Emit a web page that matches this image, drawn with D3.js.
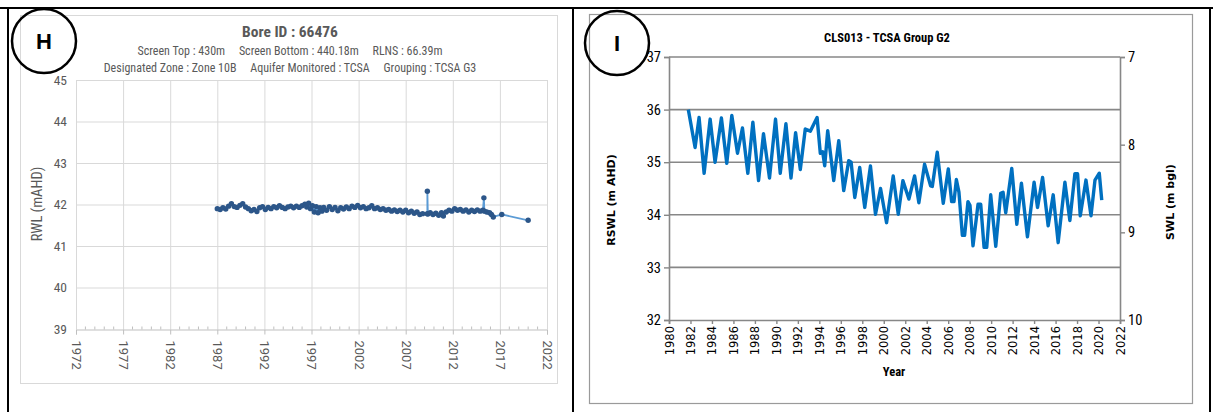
<!DOCTYPE html>
<html>
<head>
<meta charset="utf-8">
<script src="https://cdn.jsdelivr.net/npm/d3@7"></script>
<style>
  body { margin: 0; background: #fff; }
  svg { display: block; }
</style>
</head>
<body>
<div id="chart"></div>
<script>
// Panel H: bore 66476 (decimal year, RWL mAHD)
const boreYears = [
  1987.0, 1987.3, 1987.6, 1987.9, 1988.2, 1988.5, 1988.8, 1989.1, 1989.4, 1989.7,
  1990.0, 1990.3, 1990.6, 1990.9, 1991.2, 1991.5, 1991.8, 1992.1, 1992.4, 1992.7,
  1993.0, 1993.3, 1993.6, 1993.9, 1994.2, 1994.5, 1994.8, 1995.1, 1995.4, 1995.7,
  1996.0, 1996.3, 1996.5, 1996.7, 1996.9, 1997.1, 1997.3, 1997.5, 1997.7, 1997.9,
  1998.1, 1998.3, 1998.6, 1998.9, 1999.2, 1999.5, 1999.8, 2000.1, 2000.4, 2000.7,
  2001.0, 2001.3, 2001.6, 2001.9, 2002.2, 2002.5, 2002.8, 2003.1, 2003.4, 2003.7,
  2004.0, 2004.3, 2004.6, 2004.9, 2005.2, 2005.5, 2005.8, 2006.1, 2006.4, 2006.7,
  2007.0, 2007.3, 2007.6, 2007.9, 2008.2, 2008.5, 2008.8, 2009.3, 2009.3, 2009.35,
  2009.6, 2009.9, 2010.2, 2010.5, 2010.8, 2011.0, 2011.3, 2011.6, 2011.9, 2012.2,
  2012.5, 2012.8, 2013.1, 2013.4, 2013.7, 2014.0, 2014.3, 2014.6, 2014.9, 2015.2,
  2015.3, 2015.35, 2015.6, 2015.9, 2016.1, 2016.3, 2017.2, 2020.0
];
const boreRWL = [
  41.90, 41.88, 41.92, 41.89, 41.96, 42.02, 41.95, 41.93, 41.98, 42.02,
  41.94, 41.90, 41.85, 41.88, 41.83, 41.92, 41.95, 41.88, 41.93, 41.90,
  41.95, 41.92, 41.97, 41.93, 41.90, 41.94, 41.96, 41.92, 41.96, 41.93,
  41.97, 42.01, 41.94, 42.03, 41.90, 41.97, 41.82, 41.95, 41.80, 41.92,
  41.84, 41.93, 41.86, 41.95, 41.88, 41.93, 41.85, 41.92, 41.89, 41.94,
  41.90, 41.96, 41.93, 41.98, 41.92, 41.95, 41.90, 41.92, 41.97, 41.90,
  41.92, 41.88, 41.90, 41.86, 41.88, 41.84, 41.87, 41.83, 41.86, 41.82,
  41.86, 41.80, 41.84, 41.79, 41.82, 41.76, 41.78, 41.78, 42.32, 41.77,
  41.80, 41.76, 41.79, 41.74, 41.80, 41.72, 41.82, 41.86, 41.84, 41.90,
  41.86, 41.88, 41.84, 41.87, 41.82, 41.86, 41.83, 41.87, 41.84, 41.86,
  42.16, 41.84, 41.82, 41.80, 41.76, 41.70, 41.76, 41.62
];
const boreXTicks = [1972, 1977, 1982, 1987, 1992, 1997, 2002, 2007, 2012, 2017, 2022];
const boreYTicks = [39, 40, 41, 42, 43, 44, 45];

// Panel I: CLS013 (decimal year, RSWL m AHD)
const clsYears = [
  1981.80, 1982.43, 1982.80, 1983.27, 1983.83, 1984.29, 1984.88, 1985.38, 1985.85, 1986.38,
  1986.84, 1987.34, 1987.81, 1988.34, 1988.80, 1989.36, 1989.92, 1990.36, 1990.89, 1991.36,
  1991.79, 1992.23, 1992.69, 1993.16, 1993.79, 1994.09, 1994.31, 1994.50, 1994.78, 1995.34,
  1995.81, 1996.27, 1996.74, 1996.96, 1997.30, 1997.76, 1998.23, 1998.76, 1999.23, 1999.70,
  2000.26, 2000.88, 2001.35, 2001.78, 2002.34, 2002.87, 2003.27, 2003.80, 2004.36, 2004.52,
  2004.98, 2005.54, 2006.01, 2006.32, 2006.54, 2006.76, 2007.00, 2007.32, 2007.53, 2007.84,
  2008.03, 2008.31, 2008.78, 2009.03, 2009.34, 2009.59, 2009.96, 2010.43, 2010.89, 2011.11,
  2011.36, 2011.92, 2012.39, 2012.82, 2013.38, 2014.00, 2014.32, 2014.79, 2015.31, 2015.78,
  2016.24, 2016.87, 2017.33, 2017.80, 2018.05, 2018.30, 2018.83, 2019.30, 2019.67, 2020.07,
  2020.30
];
const clsRSWL = [
  36.00, 35.28, 35.85, 34.79, 35.82, 35.00, 35.84, 34.98, 35.89, 35.17,
  35.65, 34.79, 35.76, 34.65, 35.54, 34.70, 35.82, 34.79, 35.73, 34.70,
  35.56, 34.86, 35.63, 35.59, 35.85, 35.17, 35.20, 34.93, 35.60, 34.65,
  35.41, 34.46, 35.03, 35.00, 34.33, 34.90, 34.14, 34.93, 34.01, 34.50,
  33.85, 34.74, 34.01, 34.65, 34.30, 34.74, 34.23, 34.96, 34.55, 34.54,
  35.19, 34.22, 34.87, 34.25, 34.25, 34.67, 34.43, 33.61, 33.61, 34.25,
  34.18, 33.41, 34.20, 34.20, 33.38, 33.38, 34.38, 33.40, 34.41, 34.43,
  34.04, 34.88, 33.82, 34.60, 33.58, 34.62, 34.14, 34.71, 33.79, 34.38,
  33.47, 34.62, 33.89, 34.78, 34.78, 33.98, 34.66, 33.98, 34.66, 34.79,
  34.28
];
const clsXTicks = d3.range(1980, 2023, 2);
const clsYTicks = [32, 33, 34, 35, 36, 37];
const clsSWLTicks = [7, 8, 9, 10];

const W = 1213, H = 412;
const NARROW = "'Liberation Sans Narrow', 'Roboto Condensed', 'Open Sans', sans-serif";

const svg = d3.select("#chart")
  .append("svg")
  .attr("width", W)
  .attr("height", H)
  .attr("viewBox", "0 0 " + W + " " + H);

// ---------- panel H ----------
const gH = svg.append("g");

gH.append("rect")
  .attr("x", 20.5).attr("y", 15.5)
  .attr("width", 537).attr("height", 368)
  .attr("fill", "none").attr("stroke", "#d9d9d9");

const xH = d3.scaleLinear().domain([1972, 2022]).range([76, 547]);
const yH = d3.scaleLinear().domain([39, 45]).range([329, 80]);

gH.append("g")
  .selectAll("line.h")
  .data(boreYTicks.slice(1))
  .join("line")
  .attr("x1", xH(1972)).attr("x2", xH(2022))
  .attr("y1", d => yH(d) + 0.5).attr("y2", d => yH(d) + 0.5)
  .attr("stroke", "#d9d9d9");

gH.append("g")
  .selectAll("line.v")
  .data(boreXTicks)
  .join("line")
  .attr("x1", d => xH(d) + 0.5).attr("x2", d => xH(d) + 0.5)
  .attr("y1", yH(45)).attr("y2", yH(39))
  .attr("stroke", "#d9d9d9");

const axH = gH.append("g")
  .attr("transform", "translate(0," + (yH(39) + 0.5) + ")")
  .call(d3.axisBottom(xH).tickValues(boreXTicks).tickSize(5).tickFormat(d3.format("d")));
axH.select(".domain").attr("stroke", "#bfbfbf");
axH.selectAll(".tick line").attr("stroke", "#bfbfbf");
axH.selectAll(".tick text")
  .attr("transform", "rotate(90)")
  .attr("x", 11).attr("y", 0).attr("dy", "0.35em")
  .attr("text-anchor", "start")
  .attr("fill", "#595959")
  .style("font", "13px Roboto, sans-serif");

axH.append("g")
  .selectAll("line")
  .data(d3.range(1972, 2023).filter(d => (d - 1972) % 5 !== 0))
  .join("line")
  .attr("x1", d => xH(d)).attr("x2", d => xH(d))
  .attr("y1", 0).attr("y2", -3)
  .attr("stroke", "#bfbfbf");

gH.append("g")
  .selectAll("text")
  .data(boreYTicks)
  .join("text")
  .attr("x", 67)
  .attr("y", d => yH(d))
  .attr("dy", "0.35em")
  .attr("text-anchor", "end")
  .attr("fill", "#595959")
  .style("font", "13.5px " + NARROW)
  .text(d => d);

gH.append("text")
  .attr("transform", "translate(42,204) rotate(-90)")
  .attr("text-anchor", "middle")
  .attr("fill", "#595959")
  .style("font", "14.5px " + NARROW)
  .text("RWL (mAHD)");

gH.append("text")
  .attr("x", 290).attr("y", 37)
  .attr("text-anchor", "middle")
  .attr("fill", "#595959")
  .style("font", "bold 15.5px " + NARROW)
  .text("Bore ID : 66476");

gH.append("text")
  .attr("x", 290).attr("y", 55)
  .attr("text-anchor", "middle")
  .attr("fill", "#595959")
  .style("font", "12px " + NARROW)
  .style("white-space", "pre")
  .text("Screen Top : 430m     Screen Bottom : 440.18m     RLNS : 66.39m");

gH.append("text")
  .attr("x", 290).attr("y", 72)
  .attr("text-anchor", "middle")
  .attr("fill", "#595959")
  .style("font", "12px " + NARROW)
  .style("white-space", "pre")
  .text("Designated Zone : Zone 10B     Aquifer Monitored : TCSA     Grouping : TCSA G3");

const boreData = boreYears.map((y, i) => ({ x: y, v: boreRWL[i] }));

gH.append("path")
  .datum(boreData)
  .attr("fill", "none")
  .attr("stroke", "#5b9bd5")
  .attr("stroke-width", 1.8)
  .attr("d", d3.line().x(d => xH(d.x)).y(d => yH(d.v)));

gH.append("g")
  .selectAll("circle")
  .data(boreData)
  .join("circle")
  .attr("cx", d => xH(d.x))
  .attr("cy", d => yH(d.v))
  .attr("r", 2.7)
  .attr("fill", "#2c5689");

// ---------- panel I ----------
const gI = svg.append("g");

gI.append("rect")
  .attr("x", 589.5).attr("y", 14.5)
  .attr("width", 603).attr("height", 389)
  .attr("fill", "none").attr("stroke", "#9a9a9a").attr("stroke-width", 1.2);

const xI = d3.scaleLinear().domain([1980, 2022]).range([669, 1120]);
const yI = d3.scaleLinear().domain([32, 37]).range([320, 57]);
const yI2 = d3.scaleLinear().domain([7, 10]).range([57, 320]);
const GRID = "#878787";

gI.append("g")
  .selectAll("line")
  .data(clsYTicks.slice(1))
  .join("line")
  .attr("x1", xI(1980)).attr("x2", xI(2022))
  .attr("y1", d => yI(d)).attr("y2", d => yI(d))
  .attr("stroke", GRID).attr("stroke-width", 1.6);

const axIb = gI.append("g")
  .attr("transform", "translate(0," + yI(32) + ")")
  .call(d3.axisBottom(xI).tickValues(clsXTicks).tickSize(4).tickFormat(d3.format("d")));
const axIl = gI.append("g")
  .attr("transform", "translate(" + xI(1980) + ",0)")
  .call(d3.axisLeft(yI).tickValues(clsYTicks).tickSize(5).tickFormat(d3.format("d")));
const axIr = gI.append("g")
  .attr("transform", "translate(" + xI(2022) + ",0)")
  .call(d3.axisRight(yI2).tickValues(clsSWLTicks).tickSize(5).tickFormat(d3.format("d")));

[axIb, axIl, axIr].forEach(a => {
  a.select(".domain").attr("stroke", GRID).attr("stroke-width", 1.6);
  a.selectAll(".tick line").attr("stroke", GRID).attr("stroke-width", 1.4);
  a.selectAll(".tick text").attr("fill", "#000");
});

axIb.selectAll(".tick text")
  .attr("transform", "rotate(-90)")
  .attr("x", -6).attr("y", 0).attr("dy", "0.35em")
  .attr("text-anchor", "end")
  .style("font", "11.5px 'DejaVu Sans', sans-serif");
axIl.selectAll(".tick text").attr("x", -8).style("font", "14.5px " + NARROW);
axIr.selectAll(".tick text").attr("x", 8).style("font", "14.5px " + NARROW);

gI.append("text")
  .attr("x", 887).attr("y", 42)
  .attr("text-anchor", "middle")
  .style("font", "bold 12.5px " + NARROW)
  .text("CLS013 - TCSA Group G2");

gI.append("text")
  .attr("x", 894).attr("y", 376)
  .attr("text-anchor", "middle")
  .style("font", "bold 12.5px " + NARROW)
  .text("Year");

gI.append("text")
  .attr("transform", "translate(615,200) rotate(-90)")
  .attr("text-anchor", "middle")
  .style("font", "bold 11px 'DejaVu Sans', sans-serif")
  .text("RSWL (m AHD)");

gI.append("text")
  .attr("transform", "translate(1174,202) rotate(-90)")
  .attr("text-anchor", "middle")
  .style("font", "bold 11px 'DejaVu Sans', sans-serif")
  .text("SWL (m bgl)");

const clsData = clsYears.map((y, i) => ({ x: y, v: clsRSWL[i] }));

gI.append("path")
  .datum(clsData)
  .attr("fill", "none")
  .attr("stroke", "#0070c0")
  .attr("stroke-width", 3.4)
  .attr("stroke-linejoin", "round")
  .attr("d", d3.line().x(d => xI(d.x)).y(d => yI(d.v)));

// ---------- outer frame and panel labels ----------
const frame = svg.append("g").attr("stroke", "#000").attr("stroke-width", 2);
frame.append("line").attr("x1", 0).attr("x2", W).attr("y1", 8).attr("y2", 8);
frame.append("line").attr("x1", 8).attr("x2", 8).attr("y1", 8).attr("y2", H);
frame.append("line").attr("x1", 573).attr("x2", 573).attr("y1", 8).attr("y2", H);
frame.append("line").attr("x1", 1210).attr("x2", 1210).attr("y1", 8).attr("y2", H);

[{ cx: 44, cy: 41, label: "H" }, { cx: 617, cy: 43, label: "I" }].forEach(c => {
  svg.append("circle")
    .attr("cx", c.cx).attr("cy", c.cy).attr("r", 32)
    .attr("fill", "none").attr("stroke", "#000").attr("stroke-width", 2.5);
  svg.append("text")
    .attr("x", c.cx).attr("y", c.cy + 8)
    .attr("text-anchor", "middle")
    .style("font", "bold 22px 'Liberation Sans', Arial, sans-serif")
    .text(c.label);
});
</script>
</body>
</html>
